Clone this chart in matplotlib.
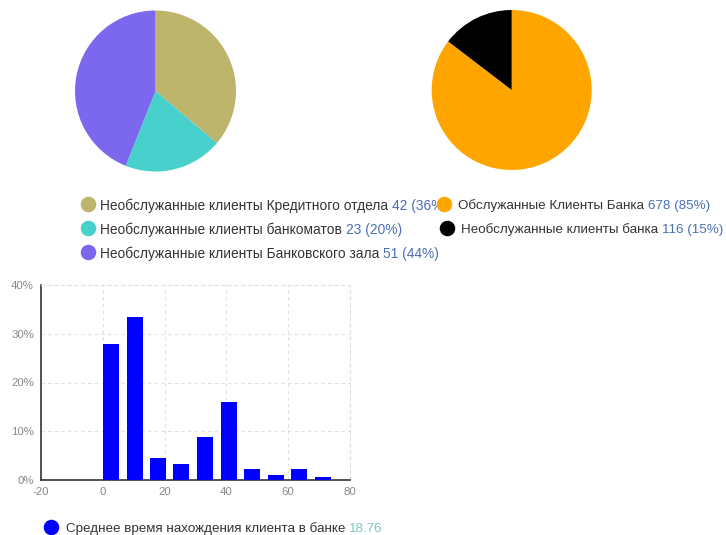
import matplotlib
matplotlib.use("Agg")
import matplotlib.pyplot as plt
from matplotlib.transforms import Bbox
from matplotlib.ticker import FuncFormatter, MultipleLocator

plt.rcParams['font.family'] = ['Liberation Sans', 'DejaVu Sans']
plt.rcParams['axes.unicode_minus'] = False

# ---- data ----
pie1_labels = ["Необслужанные клиенты Кредитного отдела",
               "Необслужанные клиенты банкоматов",
               "Необслужанные клиенты Банковского зала"]
pie1_values = [42, 23, 51]
pie1_colors = ["#BDB56B", "#48D1CC", "#7B68EE"]

pie2_labels = ["Обслужанные Клиенты Банка", "Необслужанные клиенты банка"]
pie2_values = [678, 116]
pie2_colors = ["#FFA500", "#000000"]

hist_x = [2.65, 10.3, 17.8, 25.4, 33.1, 40.8, 48.4, 56.0, 63.6, 71.3]
hist_pct = [28.0, 33.4, 4.6, 3.3, 8.9, 16.1, 2.3, 1.0, 2.3, 0.6]
hist_label = "Среднее время нахождения клиента в банке"
hist_mean = "18.76"
hist_color = "#0000FF"

W, H = 726, 535
fig = plt.figure(figsize=(W / 100, H / 100), dpi=100)


def px_axes(x0, y0, w, h):
    return fig.add_axes([x0 / W, 1 - (y0 + h) / H, w / W, h / H])


# ---- pies ----
for (cx, cy, r, vals, cols) in [(155.5, 91, 80.5, pie1_values, pie1_colors),
                                (511.7, 90, 80, pie2_values, pie2_colors)]:
    ax = px_axes(cx - r, cy - r, 2 * r, 2 * r)
    ax.pie(vals, colors=cols, startangle=90, counterclock=False, radius=1,
           wedgeprops=dict(linewidth=0))
    ax.set_xlim(-1, 1)
    ax.set_ylim(-1, 1)
    ax.axis("off")

# ---- histogram ----
hax = px_axes(41, 285, 309, 195)
hax.bar(hist_x, hist_pct, width=5.2, color=hist_color, zorder=3)
hax.set_xlim(-20, 80)
hax.set_ylim(0, 40)
hax.xaxis.set_major_locator(MultipleLocator(20))
hax.yaxis.set_major_locator(MultipleLocator(10))
hax.yaxis.set_major_formatter(FuncFormatter(lambda v, p: f"{v:.0f}%"))
hax.grid(True, color="#E0E0E0", linestyle=(0, (3, 3)), linewidth=0.8, zorder=0)
for s in ["top", "right"]:
    hax.spines[s].set_color("#E0E0E0")
    hax.spines[s].set_linestyle((0, (3, 3)))
    hax.spines[s].set_linewidth(0.8)
for s in ["left", "bottom"]:
    hax.spines[s].set_color("#333333")
    hax.spines[s].set_linewidth(1.2)
hax.tick_params(length=0, labelsize=8.2, labelcolor="#888888", pad=5)

# ---- legends (overlay in pixel coords) ----
ov = fig.add_axes([0, 0, 1, 1], zorder=5)
ov.set_xlim(0, W)
ov.set_ylim(H, 0)
ov.axis("off")

TXT = "#333333"
NUM = "#4A6FB5"


def legend_item(mx, my, tx, color, label, num, fs, num_color=NUM, clip_x=None):
    t = ov.text(tx, my, label + " ", fontsize=fs, color=TXT, va="center_baseline",
                ha="left")
    n = ov.annotate(num, xy=(1, 0), xycoords=t, va="bottom", ha="left",
                    fontsize=fs, color=num_color)
    if clip_x is not None:
        for a in (t, n):
            a.set_clip_on(True)
            a.set_clip_box(Bbox.from_extents(0, 0, clip_x, 1000))
    ov.scatter([mx], [my], s=125, color=color, zorder=6, linewidths=0)


tot1 = sum(pie1_values)
rows1 = [204, 228, 252]
for i, (lab, v, c) in enumerate(zip(pie1_labels, pie1_values, pie1_colors)):
    legend_item(88.3, rows1[i], 100, c, lab, f"{v} ({round(100 * v / tot1)}%)",
                9.9, clip_x=442 if i == 0 else None)

tot2 = sum(pie2_values)
mx2 = [444, 447]
tx2 = [458, 461]
for i, (lab, v, c) in enumerate(zip(pie2_labels, pie2_values, pie2_colors)):
    legend_item(mx2[i], rows1[i], tx2[i], c, lab, f"{v} ({round(100 * v / tot2)}%)",
                9.6)

legend_item(51, 527, 66, hist_color, hist_label, hist_mean, 9.6,
            num_color="#7CC6C0")

fig.savefig("out.png", dpi=100)
